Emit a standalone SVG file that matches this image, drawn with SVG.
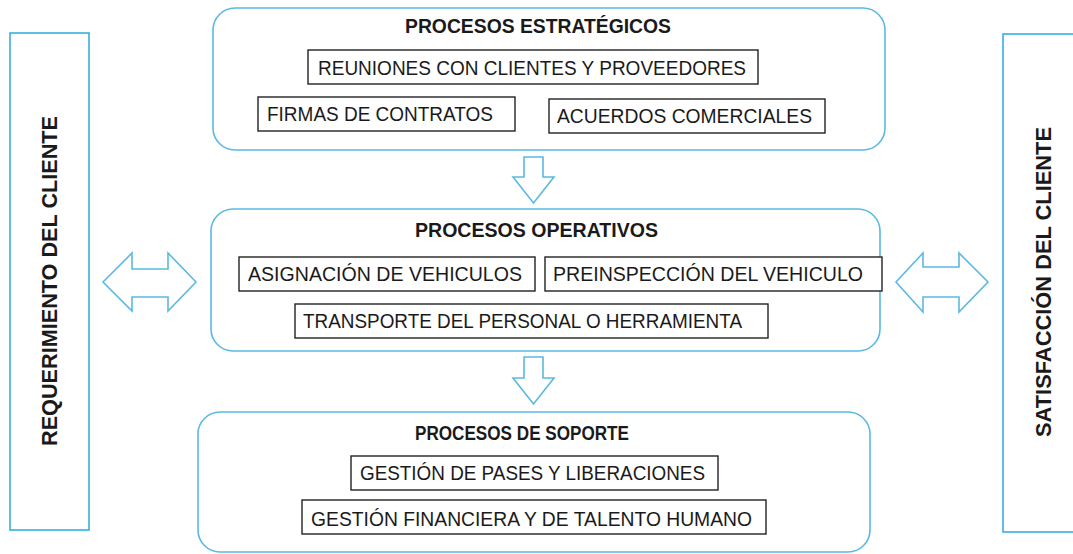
<svg xmlns="http://www.w3.org/2000/svg" width="1073" height="554" viewBox="0 0 1073 554">
<style>
  .side { fill: #ffffff; stroke: #29a9e1; stroke-width: 1.5; }
  .group { fill: #ffffff; stroke: #5bb9e2; stroke-width: 1.6; }
  .item { fill: #ffffff; stroke: #222222; stroke-width: 1.4; }
  .arrow { fill: #ffffff; stroke: #5bb9e2; stroke-width: 1.6; stroke-linejoin: miter; }
  .title { font-family: "Liberation Sans", Arial, sans-serif; font-weight: bold; font-size: 20px; fill: #1a1a1a; text-anchor: middle; }
  .label { font-family: "Liberation Sans", Arial, sans-serif; font-size: 20.5px; fill: #1a1a1a; }
  .vert { font-family: "Liberation Sans", Arial, sans-serif; font-weight: bold; font-size: 21.6px; fill: #1a1a1a; text-anchor: middle; }
</style>
<rect width="1073" height="554" fill="#ffffff"/>

<g id="requerimiento">
  <rect class="side" x="10" y="33" width="79" height="497"/>
  <text class="vert" transform="translate(57,281) rotate(-90)" textLength="330" lengthAdjust="spacingAndGlyphs">REQUERIMIENTO DEL CLIENTE</text>
</g>

<g id="satisfaccion">
  <rect class="side" x="1003" y="34" width="80" height="498"/>
  <text class="vert" transform="translate(1051,282) rotate(-90)" textLength="310" lengthAdjust="spacingAndGlyphs">SATISFACCIÓN DEL CLIENTE</text>
</g>

<g id="estrategicos">
  <rect class="group" x="213" y="8" width="672" height="142" rx="22" ry="22"/>
  <text class="title" x="538" y="33" textLength="266" lengthAdjust="spacingAndGlyphs">PROCESOS ESTRATÉGICOS</text>
  <rect class="item" x="308" y="50" width="450" height="34"/>
  <text class="label" x="318" y="75" textLength="428" lengthAdjust="spacingAndGlyphs">REUNIONES CON CLIENTES Y PROVEEDORES</text>
  <rect class="item" x="258" y="97" width="257" height="34"/>
  <text class="label" x="267" y="121" textLength="226" lengthAdjust="spacingAndGlyphs">FIRMAS DE CONTRATOS</text>
  <rect class="item" x="549" y="99" width="276" height="34"/>
  <text class="label" x="557" y="123" textLength="255" lengthAdjust="spacingAndGlyphs">ACUERDOS COMERCIALES</text>
</g>

<g id="operativos">
  <rect class="group" x="211" y="209" width="669" height="142" rx="22" ry="22"/>
  <text class="title" x="536.5" y="237" textLength="243" lengthAdjust="spacingAndGlyphs">PROCESOS OPERATIVOS</text>
  <rect class="item" x="239" y="257" width="296" height="34"/>
  <text class="label" x="248" y="281" textLength="274" lengthAdjust="spacingAndGlyphs">ASIGNACIÓN DE VEHICULOS</text>
  <rect class="item" x="545" y="257" width="337" height="34"/>
  <text class="label" x="553" y="281" textLength="310" lengthAdjust="spacingAndGlyphs">PREINSPECCIÓN DEL VEHICULO</text>
  <rect class="item" x="295" y="304" width="473" height="34"/>
  <text class="label" x="303" y="328" textLength="439" lengthAdjust="spacingAndGlyphs">TRANSPORTE DEL PERSONAL O HERRAMIENTA</text>
</g>

<g id="soporte">
  <rect class="group" x="198" y="412" width="672" height="140" rx="22" ry="22"/>
  <text class="title" x="522" y="440" textLength="214" lengthAdjust="spacingAndGlyphs">PROCESOS DE SOPORTE</text>
  <rect class="item" x="351" y="456" width="367" height="34"/>
  <text class="label" x="360" y="480" textLength="345" lengthAdjust="spacingAndGlyphs">GESTIÓN DE PASES Y LIBERACIONES</text>
  <rect class="item" x="302" y="500" width="464" height="34"/>
  <text class="label" x="311" y="526" textLength="441" lengthAdjust="spacingAndGlyphs">GESTIÓN FINANCIERA Y DE TALENTO HUMANO</text>
</g>

<g id="connectors">
  <path class="arrow" d="M524,157 L543,157 L543,177 L554,177 L533.5,203 L513,177 L524,177 Z"/>
  <path class="arrow" d="M524,357 L543,357 L543,378 L554,378 L533.5,404 L513,378 L524,378 Z"/>
  <path class="arrow" d="M103,282 L132,253 L132,269 L168,269 L168,253 L196,282 L168,311 L168,297 L132,297 L132,311 Z"/>
  <path class="arrow" d="M896,282 L923,253 L923,267 L959,267 L959,253 L988,282 L959,312 L959,297 L923,297 L923,312 Z"/>
</g>
</svg>
